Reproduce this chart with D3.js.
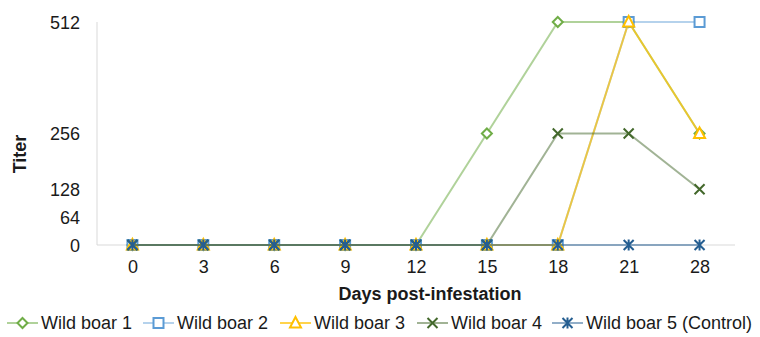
<!DOCTYPE html>
<html>
<head>
<meta charset="utf-8">
<script src="https://cdn.jsdelivr.net/npm/d3@7"></script>
<style>
  body { margin: 0; background: #fff; }
  text { font-family: "Liberation Sans", Arial, sans-serif; fill: #1a1a1a; }
</style>
</head>
<body>
<div id="chart"></div>
<script>
const days = ["0", "3", "6", "9", "12", "15", "18", "21", "28"];
const yTicks = [0, 64, 128, 256, 512];
const boar1 = [0, 0, 0, 0, 0, 256, 512, 512, 256];
const boar2 = [0, 0, 0, 0, 0, 0, 0, 512, 512];
const boar3 = [0, 0, 0, 0, 0, 0, 0, 512, 256];
const boar4 = [0, 0, 0, 0, 0, 0, 256, 256, 128];
const boar5 = [0, 0, 0, 0, 0, 0, 0, 0, 0];
const seriesNames = ["Wild boar 1", "Wild boar 2", "Wild boar 3", "Wild boar 4", "Wild boar 5 (Control)"];

const SIZE = { width: 760, height: 337 };
const MARGIN = { left: 97, right: 25, top: 22, bottom: 92 };

const series = [
  { name: seriesNames[0], values: boar1, color: "#70AD47", lineOpacity: 0.55, marker: "diamond" },
  { name: seriesNames[1], values: boar2, color: "#5B9BD5", lineOpacity: 0.45, marker: "square" },
  { name: seriesNames[2], values: boar3, color: "#FFC000", lineOpacity: 0.7, marker: "triangle" },
  { name: seriesNames[3], values: boar4, color: "#43682B", lineOpacity: 0.5, marker: "x" },
  { name: seriesNames[4], values: boar5, color: "#255E91", lineOpacity: 0.5, marker: "star" },
];

function drawMarker(g, type, color) {
  if (type === "diamond") {
    g.append("path").attr("d", "M0,-5L5,0L0,5L-5,0Z")
      .attr("fill", "#fff").attr("stroke", color).attr("stroke-width", 2);
  } else if (type === "square") {
    g.append("rect").attr("x", -5).attr("y", -5).attr("width", 10).attr("height", 10)
      .attr("fill", "#fff").attr("stroke", color).attr("stroke-width", 2);
  } else if (type === "triangle") {
    g.append("path").attr("d", "M0,-6L5.5,4.5L-5.5,4.5Z")
      .attr("fill", "#fff").attr("stroke", color).attr("stroke-width", 2);
  } else if (type === "x") {
    g.append("path").attr("d", "M-5,-5L5,5M-5,5L5,-5")
      .attr("stroke", color).attr("stroke-width", 2);
  } else {
    g.append("path").attr("d", "M-5,-5L5,5M-5,5L5,-5M0,-5.5L0,5.5")
      .attr("stroke", color).attr("stroke-width", 2);
  }
}

function initialize() {
  const svg = d3.select("div#chart").append("svg")
    .attr("width", SIZE.width)
    .attr("height", SIZE.height);

  const xScale = d3.scalePoint().domain(days)
    .range([MARGIN.left, SIZE.width - MARGIN.right]).padding(0.5);
  const yScale = d3.scaleLinear().domain([0, 512])
    .range([SIZE.height - MARGIN.bottom, MARGIN.top]);
  const y0 = yScale(0);

  // axis lines
  svg.append("line").attr("x1", MARGIN.left).attr("x2", MARGIN.left)
    .attr("y1", MARGIN.top).attr("y2", y0).attr("stroke", "#d9d9d9");
  svg.append("line").attr("x1", MARGIN.left).attr("x2", SIZE.width - MARGIN.right)
    .attr("y1", y0).attr("y2", y0).attr("stroke", "#d9d9d9");

  const yAxis = svg.append("g").attr("transform", `translate(${MARGIN.left}, 0)`)
    .call(d3.axisLeft(yScale).tickValues(yTicks).tickSize(0).tickPadding(17));
  yAxis.select(".domain").remove();
  yAxis.selectAll("text").style("font-size", "18px").attr("dy", "0.36em");

  const xAxis = svg.append("g").attr("transform", `translate(0, ${y0})`)
    .call(d3.axisBottom(xScale).tickSize(0).tickPadding(15));
  xAxis.select(".domain").remove();
  xAxis.selectAll("text").style("font-size", "18px");

  svg.append("text").attr("x", 430).attr("y", 300).attr("text-anchor", "middle")
    .style("font-size", "18px").style("font-weight", "bold").text("Days post-infestation");
  svg.append("text").attr("transform", "translate(26, 154) rotate(-90)")
    .attr("text-anchor", "middle")
    .style("font-size", "18px").style("font-weight", "bold").text("Titer");

  const line = d3.line().x((d, i) => xScale(days[i])).y(d => yScale(d));

  series.forEach(s => {
    svg.append("path").datum(s.values).attr("d", line)
      .attr("fill", "none").attr("stroke", s.color)
      .attr("stroke-opacity", s.lineOpacity).attr("stroke-width", 2);
    s.values.forEach((v, i) => {
      const g = svg.append("g").attr("transform", `translate(${xScale(days[i])}, ${yScale(v)})`);
      drawMarker(g, s.marker, s.color);
    });
  });

  // legend
  const legendX = [7, 143, 280, 417, 552];
  const legendY = 323;
  series.forEach((s, i) => {
    const lg = svg.append("g").attr("transform", `translate(${legendX[i]}, ${legendY})`);
    lg.append("line").attr("x1", 0).attr("x2", 31).attr("y1", 0).attr("y2", 0)
      .attr("stroke", s.color).attr("stroke-opacity", s.lineOpacity).attr("stroke-width", 2);
    drawMarker(lg.append("g").attr("transform", "translate(15.5, 0)"), s.marker, s.color);
    lg.append("text").attr("x", 34).attr("y", 0).attr("dy", "0.36em")
      .style("font-size", "18px").text(s.name);
  });
}

initialize();
</script>
</body>
</html>
